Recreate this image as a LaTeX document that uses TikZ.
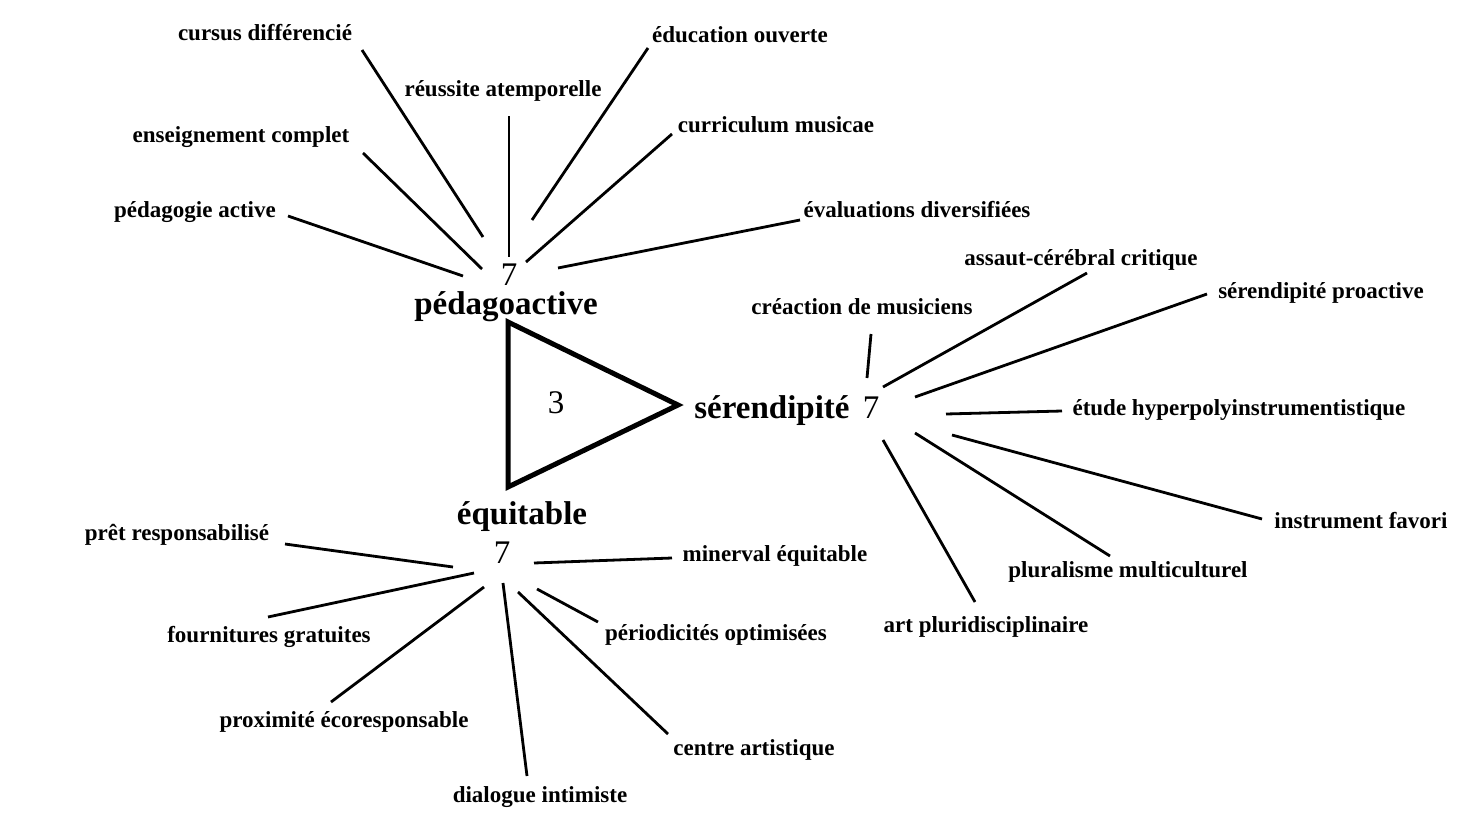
\documentclass[tikz,border=0pt]{standalone}
\usepackage{fontspec}
\setmainfont{Liberation Serif}
\tikzset{
  leaf/.style={anchor=base,inner sep=0pt,font=\fontsize{23}{27}\selectfont\bfseries},
  hub/.style={anchor=base,inner sep=0pt,font=\fontsize{33}{38}\selectfont\bfseries},
  num/.style={anchor=base,inner sep=0pt,font=\fontsize{33}{38}\selectfont},
  spoke/.style={line width=2.8pt},
}
\begin{document}
\begin{tikzpicture}[x=1pt,y=-1pt]
      \useasboundingbox (0,0) rectangle (1468,838);
      \draw
        (506,314) node[hub] (pa){pédagoactive}
        (509,285) node[num] (pan){7}
        (772,418) node[hub] (se){sérendipité}
        (871,418) node[num] (sen){7}
        (522,524) node[hub] (eq){équitable}
        (502,563) node[num] (eqn){7}
        (556,413) node[num] (tri){3}
        (265,40) node[leaf] (cursus){cursus différencié}
        (503,96) node[leaf] (reussite){réussite atemporelle}
        (740,42) node[leaf] (education){éducation ouverte}
        (241,142) node[leaf] (enseignement){enseignement complet}
        (776,132) node[leaf] (curriculum){curriculum musicae}
        (195,217) node[leaf] (pedagogie){pédagogie active}
        (917,217) node[leaf] (evaluations){évaluations diversifiées}
        (862,314) node[leaf] (creaction){créaction de musiciens}
        (1081,265) node[leaf] (assaut){assaut-cérébral critique}
        (1321,298) node[leaf] (proactive){sérendipité proactive}
        (1239,415) node[leaf] (etude){étude hyperpolyinstrumentistique}
        (1361,528) node[leaf] (instrument){instrument favori}
        (1128,577) node[leaf] (pluralisme){pluralisme multiculturel}
        (986,632) node[leaf] (art){art pluridisciplinaire}
        (177,540) node[leaf] (pret){prêt responsabilisé}
        (775,561) node[leaf] (minerval){minerval équitable}
        (269,642) node[leaf] (fournitures){fournitures gratuites}
        (716,640) node[leaf] (periodicites){périodicités optimisées}
        (344,727) node[leaf] (proximite){proximité écoresponsable}
        (754,755) node[leaf] (centre){centre artistique}
        (540,802) node[leaf] (dialogue){dialogue intimiste};
      \path
        (508,322) coordinate (t1)
        (678,405) coordinate (t2)
        (508,487) coordinate (t3)
        (362,50) coordinate (cursus-a) (483,237) coordinate (cursus-b)
        (509,116) coordinate (reussite-a) (509,257) coordinate (reussite-b)
        (648,48) coordinate (education-a) (532,220) coordinate (education-b)
        (363,153) coordinate (enseignement-a) (482,269) coordinate (enseignement-b)
        (672,134) coordinate (curriculum-a) (526,262) coordinate (curriculum-b)
        (288,216) coordinate (pedagogie-a) (463,276) coordinate (pedagogie-b)
        (800,220) coordinate (evaluations-a) (558,268) coordinate (evaluations-b)
        (871,334) coordinate (creaction-a) (867,378) coordinate (creaction-b)
        (1087,273) coordinate (assaut-a) (883,387) coordinate (assaut-b)
        (1207,294) coordinate (proactive-a) (915,397) coordinate (proactive-b)
        (1062,411) coordinate (etude-a) (946,414) coordinate (etude-b)
        (1262,519) coordinate (instrument-a) (952,435) coordinate (instrument-b)
        (1110,556) coordinate (pluralisme-a) (915,433) coordinate (pluralisme-b)
        (975,602) coordinate (art-a) (883,440) coordinate (art-b)
        (285,544) coordinate (pret-a) (453,567) coordinate (pret-b)
        (672,558) coordinate (minerval-a) (534,563) coordinate (minerval-b)
        (268,617) coordinate (fournitures-a) (474,573) coordinate (fournitures-b)
        (598,622) coordinate (periodicites-a) (537,589) coordinate (periodicites-b)
        (331,702) coordinate (proximite-a) (484,587) coordinate (proximite-b)
        (668,734) coordinate (centre-a) (518,592) coordinate (centre-b)
        (527,776) coordinate (dialogue-a) (503,583) coordinate (dialogue-b);
      \draw[line width=5pt] (t1) -- (t2) -- (t3) -- cycle;
      \begin{scope}[spoke]
        \draw (cursus-a) to (cursus-b);
        \draw (reussite-a) to (reussite-b);
        \draw (education-a) to (education-b);
        \draw (enseignement-a) to (enseignement-b);
        \draw (curriculum-a) to (curriculum-b);
        \draw (pedagogie-a) to (pedagogie-b);
        \draw (evaluations-a) to (evaluations-b);
        \draw (creaction-a) to (creaction-b);
        \draw (assaut-a) to (assaut-b);
        \draw (proactive-a) to (proactive-b);
        \draw (etude-a) to (etude-b);
        \draw (instrument-a) to (instrument-b);
        \draw (pluralisme-a) to (pluralisme-b);
        \draw (art-a) to (art-b);
        \draw (pret-a) to (pret-b);
        \draw (minerval-a) to (minerval-b);
        \draw (fournitures-a) to (fournitures-b);
        \draw (periodicites-a) to (periodicites-b);
        \draw (proximite-a) to (proximite-b);
        \draw (centre-a) to (centre-b);
        \draw (dialogue-a) to (dialogue-b);
      \end{scope}
    \end{tikzpicture}
\end{document}
